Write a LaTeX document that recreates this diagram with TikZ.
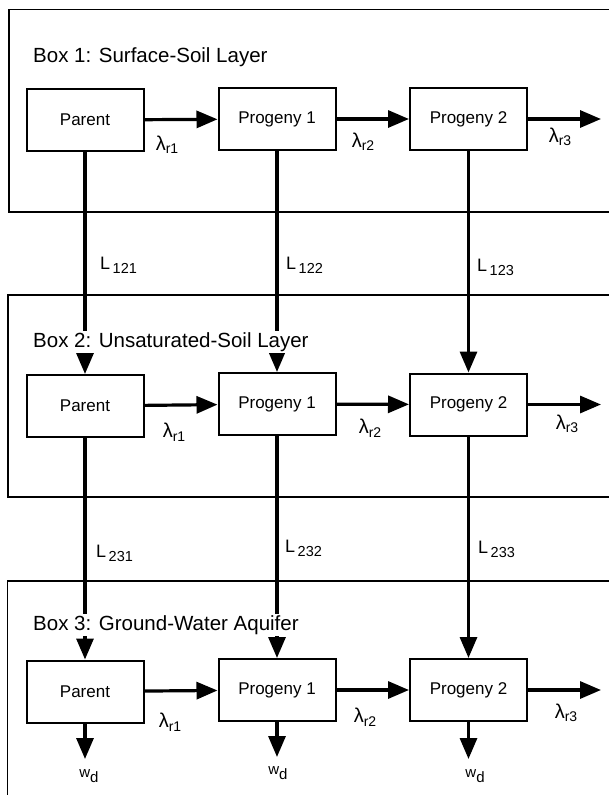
\documentclass[tikz,border=0pt]{standalone}
\usepackage{fontspec}
\setmainfont{Liberation Sans}
\usetikzlibrary{arrows.meta}
\newcommand\lamr[1]{{\fontsize{20}{20}\selectfont λ}\raisebox{-3.5pt}{\fontsize{14}{14}\selectfont r#1}}
\newcommand\Lsub[1]{{\fontsize{18}{18}\selectfont L}\hspace{2.5pt}\raisebox{-4pt}{\fontsize{14.5}{14.5}\selectfont #1}}
\newcommand\wdlabel{{\fontsize{15}{15}\selectfont w}\raisebox{-4.5pt}{\fontsize{15}{15}\selectfont d}}
\begin{document}
\begin{tikzpicture}[x=1pt,y=1pt,
  frame/.style={line width=1.6pt},
  comp/.style={draw, line width=2pt, minimum width=117pt, minimum height=62pt, inner sep=0pt, font=\fontsize{17}{17}\selectfont},
  flow/.style={line width=3.2pt, -{Triangle[length=21pt,width=17pt]}},
  title/.style={anchor=base west, fill=white, inner xsep=2pt, inner ysep=1.5pt, font=\fontsize{20.5}{20.5}\selectfont},
  lam/.style={inner sep=0pt},
  lbl/.style={anchor=west, inner sep=0pt},
]
\fill[white] (0,0) rectangle (609,-795);
\useasboundingbox (0,0) rectangle (609,-795);

% layer frames
\draw[frame] (612,-9.5) -- (9,-9.5) -- (9,-212) -- (612,-212);
\draw[frame] (612,-295) -- (8,-295) -- (8,-497) -- (612,-497);
\draw[frame] (612,-581) -- (7.5,-581) -- (7.5,-798);

% components
\node[comp] (a1) at (85,-120) {Parent};
\node[comp] (b1) at (277,-119) {Progeny 1};
\node[comp] (c1) at (468.5,-119) {Progeny 2};
\node[comp] (a2) at (85,-406) {Parent};
\node[comp] (b2) at (277,-404) {Progeny 1};
\node[comp] (c2) at (468.5,-404.5) {Progeny 2};
\node[comp] (a3) at (85,-691.5) {Parent};
\node[comp] (b3) at (277,-690) {Progeny 1};
\node[comp] (c3) at (468.5,-690) {Progeny 2};

% free ends
\coordinate (o1) at (601,-119);
\coordinate (o2) at (601,-404.5);
\coordinate (o3) at (601,-690);
\coordinate (wa) at (85,-759);
\coordinate (wb) at (277,-757);
\coordinate (wc) at (468.5,-759);

% horizontal decay arrows
\draw[flow] (a1) -- (b1);
\draw[flow] (b1) -- (c1);
\draw[flow] (c1.east) -- (o1);
\draw[flow] (a2) -- (b2);
\draw[flow] (b2) -- (c2);
\draw[flow] (c2.east) -- (o2);
\draw[flow] (a3) -- (b3);
\draw[flow] (b3) -- (c3);
\draw[flow] (c3.east) -- (o3);

% vertical transfers
\draw[flow] (a1.south) -- (a2.north);
\draw[flow] (b1.south) -- (b2.north);
\draw[flow] (c1.south) -- (c2.north);
\draw[flow] (a2.south) -- (a3.north);
\draw[flow] (b2.south) -- (b3.north);
\draw[flow] (c2.south) -- (c3.north);
\draw[flow] (a3.south) -- (wa);
\draw[flow] (b3.south) -- (wb);
\draw[flow] (c3.south) -- (wc);

% titles
\node[title] (t1) at (31,-62) {Box 1: Surface-Soil Layer};
\node[title] (t2) at (31,-347) {Box 2: Unsaturated-Soil Layer};
\node[title] (t3) at (31,-630) {Box 3: Ground-Water Aquifer};

% rate labels
\node[lam] (l11) at (167,-145) {\lamr{1}};
\node[lam] (l12) at (363,-142) {\lamr{2}};
\node[lam] (l13) at (560,-137) {\lamr{3}};
\node[lam] (l21) at (174,-432) {\lamr{1}};
\node[lam] (l22) at (370,-428) {\lamr{2}};
\node[lam] (l23) at (567,-424) {\lamr{3}};
\node[lam] (l31) at (170,-722) {\lamr{1}};
\node[lam] (l32) at (365,-717) {\lamr{2}};
\node[lam] (l33) at (566,-713) {\lamr{3}};

% transfer labels
\node[lbl] (L121) at (100,-265) {\Lsub{121}};
\node[lbl] (L122) at (286,-265) {\Lsub{122}};
\node[lbl] (L123) at (477,-267) {\Lsub{123}};
\node[lbl] (L231) at (96,-553) {\Lsub{231}};
\node[lbl] (L232) at (285,-548) {\Lsub{232}};
\node[lbl] (L233) at (478,-549) {\Lsub{233}};

% wash-out labels
\node[lam] (w1) at (89,-776) {\wdlabel};
\node[lam] (w2) at (278,-773) {\wdlabel};
\node[lam] (w3) at (475,-776) {\wdlabel};
\end{tikzpicture}
\end{document}
